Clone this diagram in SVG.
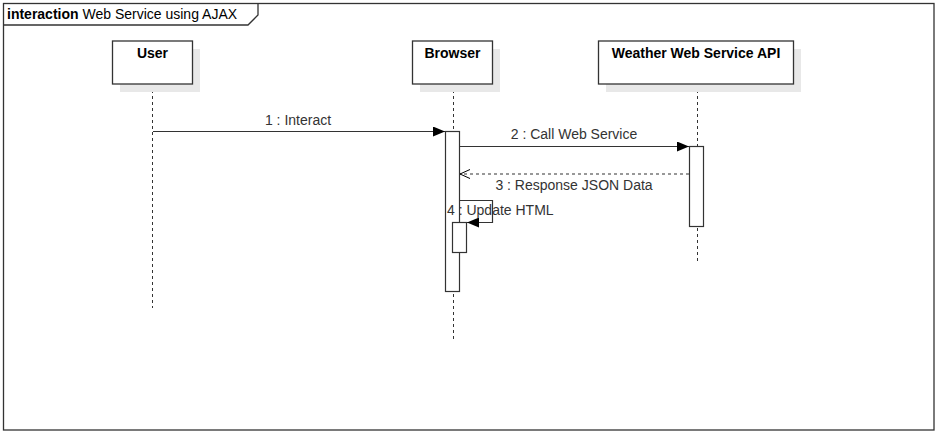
<svg xmlns="http://www.w3.org/2000/svg" width="937" height="434" viewBox="0 0 937 434">
<defs>
<marker id="filled" markerWidth="12" markerHeight="10" refX="12" refY="5" orient="auto" markerUnits="userSpaceOnUse"><path d="M0,0 L12,5 L0,10 z" fill="#000"/></marker>
<marker id="open" markerWidth="12" markerHeight="10" refX="11" refY="5" orient="auto" markerUnits="userSpaceOnUse"><path d="M1,0.5 L11,5 L1,9.5" fill="none" stroke="#000" stroke-width="1"/></marker>
</defs>
<style>
text{font-family:"Liberation Sans",Arial,sans-serif;fill:#000;}
.lbl{font-size:14px;fill:#333;}
.hdr{font-size:14px;font-weight:bold;}
.box{fill:#fff;stroke:#333;stroke-width:1.3;}
.shadow{fill:#e8e8e8;}
.life{stroke:#333;stroke-width:1;stroke-dasharray:3,3;fill:none;}
.act{fill:#fff;stroke:#333;stroke-width:1.2;}
.msg{stroke:#333;stroke-width:1.2;fill:none;}
</style>
<rect x="0" y="0" width="937" height="434" fill="#fff"/>
<g id="frame">
<rect x="3.5" y="3.5" width="930.5" height="426.5" fill="none" stroke="#333" stroke-width="1.3"/>
<path d="M3.5,25 L248,25 L258,15 L258,3.5" fill="none" stroke="#333" stroke-width="1.3"/>
<text x="7" y="19" font-size="14"><tspan font-weight="bold">interaction</tspan> Web Service using AJAX</text>
</g>
<g id="lifelines">
<line class="life" x1="152.5" y1="84" x2="152.5" y2="308"/>
<line class="life" x1="453.5" y1="84" x2="453.5" y2="340"/>
<line class="life" x1="697.5" y1="84" x2="697.5" y2="262"/>
</g>
<g id="user">
<rect class="shadow" x="120" y="49" width="80" height="43"/>
<rect class="box" x="112.5" y="41" width="80" height="43"/>
<text class="hdr" x="152.5" y="58" text-anchor="middle">User</text>
</g>
<g id="browser">
<rect class="shadow" x="420" y="49" width="80" height="43"/>
<rect class="box" x="412.5" y="41" width="80" height="43"/>
<text class="hdr" x="452.5" y="58" text-anchor="middle">Browser</text>
</g>
<g id="weather">
<rect class="shadow" x="606" y="49" width="195" height="43"/>
<rect class="box" x="598.5" y="41" width="195" height="43"/>
<text class="hdr" x="696" y="58" text-anchor="middle">Weather Web Service API</text>
</g>
<g id="activations">
<rect class="act" x="445.5" y="131.5" width="14" height="160"/>
<rect class="act" x="689.5" y="146.5" width="14" height="80"/>
<rect class="act" x="452.5" y="222.5" width="14" height="30"/>
</g>
<g id="connectors">
<line class="msg" x1="153" y1="131.5" x2="445" y2="131.5" marker-end="url(#filled)"/>
<text class="lbl" x="298" y="125" text-anchor="middle">1 : Interact</text>
<line class="msg" x1="460" y1="146.5" x2="689" y2="146.5" marker-end="url(#filled)"/>
<text class="lbl" x="574" y="139" text-anchor="middle">2 : Call Web Service</text>
<line class="msg" x1="689" y1="174" x2="460" y2="174" stroke-dasharray="3,3" marker-end="url(#open)"/>
<text class="lbl" x="574" y="190" text-anchor="middle">3 : Response JSON Data</text>
<path class="msg" d="M460,200.5 L492.5,200.5 L492.5,222.5 L467,222.5" marker-end="url(#filled)"/>
<text class="lbl" x="447" y="215">4 : Update HTML</text>
</g>
</svg>
